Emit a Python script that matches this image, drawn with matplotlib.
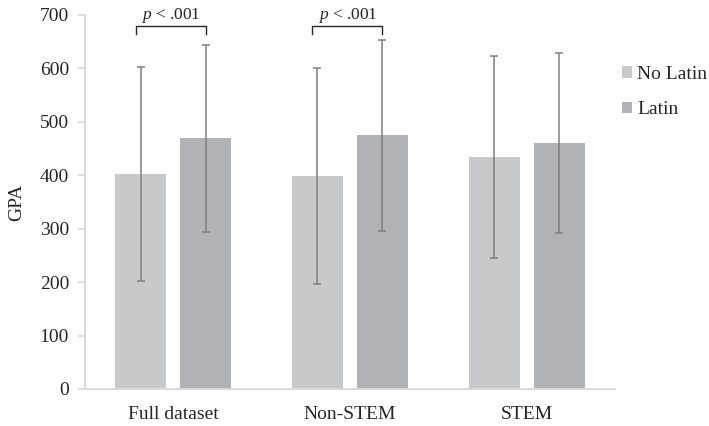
import matplotlib
matplotlib.use("Agg")
import matplotlib.pyplot as plt
import numpy as np

categories = ["Full dataset", "Non-STEM", "STEM"]
series_names = ["No Latin", "Latin"]
no_latin_mean = [402, 399, 435]
no_latin_err = [200, 202, 189]
latin_mean = [469, 475, 460]
latin_err = [175, 179, 168]
sig_groups = [0, 1]
sig_label = "$p$ < .001"
yticks = [0, 100, 200, 300, 400, 500, 600, 700]

plt.rcParams['font.family'] = ['Liberation Serif', 'DejaVu Serif']
plt.rcParams['mathtext.fontset'] = 'custom'
plt.rcParams['mathtext.it'] = 'Liberation Serif:italic'
plt.rcParams['mathtext.rm'] = 'Liberation Serif'

FS = 14
fig = plt.figure(figsize=(7.09, 4.26), dpi=100)
ax = fig.add_axes([0.1195, 0.0869, 0.7479, 0.8779])

x = np.arange(len(categories))
w = 0.289
off = 0.184
c_no = '#c8c9cb'
c_la = '#b1b2b5'
ecol = '#7f7f7f'
ekw = dict(ecolor=ecol, elinewidth=1.1, capsize=2.8, capthick=1.1)

ax.bar(x - off, no_latin_mean, w, color=c_no, label=series_names[0],
       yerr=no_latin_err, error_kw=ekw, zorder=2)
ax.bar(x + off, latin_mean, w, color=c_la, label=series_names[1],
       yerr=latin_err, error_kw=ekw, zorder=2)

for g in sig_groups:
    x0 = g - off - 0.028
    x1 = g + off
    ax.plot([x0, x0, x1, x1], [664, 679, 679, 664], color='#262626', lw=1.0,
            clip_on=False, zorder=3)
    ax.text((x0 + x1) / 2, 681, sig_label, ha='center', va='bottom',
            fontsize=12.5, color='#262626', clip_on=False)

ax.set_xlim(-0.5, 2.5)
ax.set_ylim(0, 700)
ax.set_yticks(yticks)
ax.set_xticks(x)
ax.set_xticklabels(categories, fontsize=FS, color='#262626')
ax.tick_params(axis='y', labelsize=FS, labelcolor='#262626', color='#d9d9d9',
               length=5, width=1.2, pad=6.3)
ax.tick_params(axis='x', length=0, pad=12.5)
for s in ['top', 'right']:
    ax.spines[s].set_visible(False)
for s in ['left', 'bottom']:
    ax.spines[s].set_color('#d9d9d9')
    ax.spines[s].set_linewidth(1.4)
ax.set_ylabel("GPA", fontsize=FS, color='#262626')
ax.yaxis.set_label_coords(-0.112, 0.5)

leg = ax.legend(loc='upper left', bbox_to_anchor=(1.0126, 0.864), frameon=False,
                fontsize=FS, handlelength=0.55, handleheight=0.55,
                handletextpad=0.25, labelspacing=0.95, borderaxespad=0,
                borderpad=0)
for t in leg.get_texts():
    t.set_color('#262626')

fig.savefig("out.png", dpi=100)
